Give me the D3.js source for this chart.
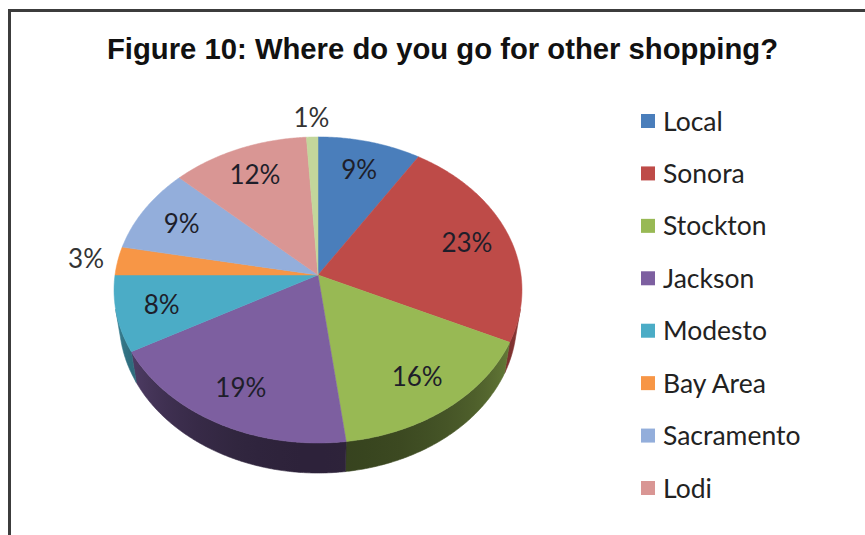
<!DOCTYPE html>
<html>
<head>
<meta charset="utf-8">
<script src="https://cdnjs.cloudflare.com/ajax/libs/d3/7.8.5/d3.min.js"></script>
<style>
  html, body { margin: 0; padding: 0; background: #ffffff; }
  svg { display: block; }
</style>
</head>
<body>
<svg id="chart" width="865" height="535"></svg>
<script>
// Survey answers: share of respondents (percent) by shopping destination
const categories = ["Local", "Sonora", "Stockton", "Jackson", "Modesto", "Bay Area", "Sacramento", "Lodi", "Other"];
const shares = [9, 23, 16, 19, 8, 3, 9, 12, 1];
const sliceColors = ["#4A7EBB", "#BE4B48", "#98B954", "#7D5FA0", "#4BACC6", "#F79646", "#93AEDB", "#D99694", "#C3D69B"];
const legendNames = categories.slice(0, 8);   // the legend box holds eight rows
const titleText = "Figure 10: Where do you go for other shopping?";

const svg = d3.select("#chart");
const defs = svg.append("defs");

// frame around the chart area
svg.append("path")
  .attr("d", "M9.5,535 V10.5 H865")
  .attr("fill", "none")
  .attr("stroke", "#3c3c3c")
  .attr("stroke-width", 3);

// title
svg.append("text")
  .attr("x", 107).attr("y", 59)
  .attr("textLength", 671)
  .attr("lengthAdjust", "spacingAndGlyphs")
  .style("font-family", "'Liberation Sans', Arial, sans-serif")
  .style("font-weight", "bold")
  .style("font-size", "29px")
  .attr("fill", "#111")
  .text(titleText);

// ---- 3D pie: disc of radius 1 seen from above with perspective ----
const cx = 318, cy = 275, K = 203;
const tilt = 48.3 * Math.PI / 180;
const camDist = 6.8;
const thickness = 0.239;
const sinT = Math.sin(tilt), cosT = Math.cos(tilt);

// u: right, v: toward viewer, h: up
function project(u, v, h) {
  const yc = h * cosT - v * sinT;
  const zc = camDist - (v * cosT + h * sinT);
  const s = camDist / zc;
  return [cx + K * u * s, cy - K * yc * s];
}
const rim = (a, h, r = 1) => project(r * Math.sin(a), -r * Math.cos(a), h);

const pie = d3.pie().sort(null).value(d => d.value);
const arcs = pie(categories.map((c, i) => ({ name: c, value: shares[i] })));

const color = d3.scaleOrdinal().domain(categories).range(sliceColors);
const line = d3.line();
const step = Math.PI / 360;

// the outer wall faces the camera where cos(angle) < -1 / (camDist * cos(tilt))
const edge = Math.acos(-1 / (camDist * cosT));
const visLo = edge, visHi = 2 * Math.PI - edge;
const wallShade = a => 0.12 + 0.52 * Math.max(0, -Math.cos(a));

const wallData = arcs
  .map(d => ({ d, a0: Math.max(d.startAngle, visLo), a1: Math.min(d.endAngle, visHi) }))
  .filter(w => w.a1 > w.a0);

wallData.forEach((w, i) => {
  const id = "wall" + i;
  const x0 = rim(w.a0, 0)[0], x1 = rim(w.a1, 0)[0];
  const g = defs.append("linearGradient")
    .attr("id", id)
    .attr("gradientUnits", "userSpaceOnUse")
    .attr("x1", x0).attr("y1", 0).attr("x2", x1).attr("y2", 0);
  const n = 12;
  for (let k = 0; k <= n; k++) {
    const a = w.a0 + (w.a1 - w.a0) * k / n;
    const x = rim(a, 0)[0];
    const off = x1 === x0 ? 0 : (x - x0) / (x1 - x0);
    g.append("stop")
      .attr("offset", Math.max(0, Math.min(1, off)))
      .attr("stop-color", d3.interpolateRgb(color(w.d.data.name), "#000000")(wallShade(a)));
  }
  w.id = id;
});

svg.append("g").selectAll("path").data(wallData).join("path")
  .attr("d", w => {
    const n = Math.max(2, Math.ceil((w.a1 - w.a0) / step));
    const pts = [];
    for (let k = 0; k <= n; k++) pts.push(rim(w.a0 + (w.a1 - w.a0) * k / n, 0));
    for (let k = n; k >= 0; k--) pts.push(rim(w.a0 + (w.a1 - w.a0) * k / n, -thickness));
    return line(pts) + "Z";
  })
  .attr("fill", w => `url(#${w.id})`)
  .attr("stroke", w => `url(#${w.id})`)
  .attr("stroke-width", 0.6);

// top faces
svg.append("g").selectAll("path").data(arcs).join("path")
  .attr("d", d => {
    const n = Math.max(2, Math.ceil((d.endAngle - d.startAngle) / step));
    const pts = [project(0, 0, 0)];
    for (let i = 0; i <= n; i++) pts.push(rim(d.startAngle + (d.endAngle - d.startAngle) * i / n, 0));
    return line(pts) + "Z";
  })
  .attr("fill", d => color(d.data.name))
  .attr("stroke", d => color(d.data.name))
  .attr("stroke-width", 0.5);

// percentage labels: inside the slice, small slices get theirs just outside the rim
const labels = svg.append("g")
  .style("font-family", "Lato, 'Open Sans', sans-serif")
  .style("font-size", "26px");
labels.selectAll("text").data(arcs).join("text")
  .attr("transform", d => {
    const mid = (d.startAngle + d.endAngle) / 2;
    const p = rim(mid, 0, d.data.value < 5 ? 1.16 : 0.78);
    return `translate(${p[0]},${p[1]})`;
  })
  .attr("text-anchor", "middle")
  .attr("dy", "0.36em")
  .attr("fill", d => d.data.value < 5 ? "#333" : "#1e1e2a")
  .text(d => d3.format(".0f")(d.data.value) + "%");

// legend
const legendY = d3.scalePoint().domain(legendNames).range([121, 488]);
const legend = svg.append("g")
  .style("font-family", "Lato, 'Open Sans', sans-serif")
  .style("font-size", "26.5px");
const rows = legend.selectAll("g").data(legendNames).join("g")
  .attr("transform", d => `translate(641,${legendY(d)})`);
rows.append("rect")
  .attr("x", 0).attr("y", -7).attr("width", 14).attr("height", 14)
  .attr("fill", d => color(d));
rows.append("text")
  .attr("x", 22).attr("dy", "0.36em")
  .attr("fill", "#222")
  .text(d => d);
</script>
</body>
</html>
